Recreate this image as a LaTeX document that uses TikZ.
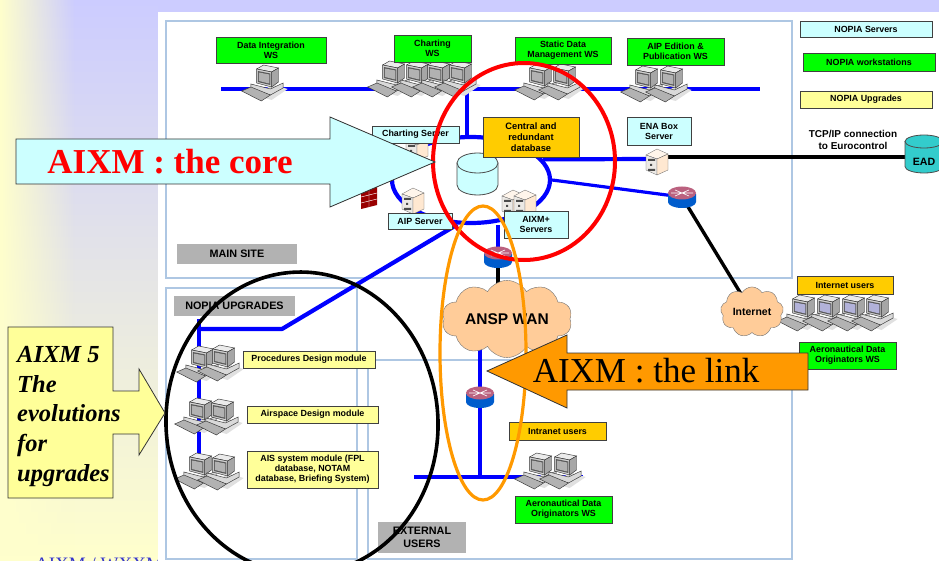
\documentclass[tikz,border=0pt]{standalone}
\usepackage{fontspec}
\setmainfont{Liberation Serif}
\setsansfont{Liberation Sans}
\usetikzlibrary{shapes.geometric,shapes.symbols,fadings}
\definecolor{lavender}{HTML}{CCCCFF}
\definecolor{paleyellow}{HTML}{FFFFCC}
\definecolor{framecol}{HTML}{AEC7E3}
\definecolor{wsgreen}{HTML}{00FF00}
\definecolor{srvcyan}{HTML}{CCFFFF}
\definecolor{upgyellow}{HTML}{FFFF99}
\definecolor{orgamber}{HTML}{FFCC00}
\definecolor{callorange}{HTML}{FF9900}
\definecolor{sitegrey}{HTML}{B2B2B2}
\definecolor{cloudpeach}{HTML}{FFCC99}
\definecolor{eadteal}{HTML}{33CCCC}
\definecolor{footblue}{HTML}{3333CC}
\newcommand{\wsgen}[2][black!30]{
  \begin{scope}[shift={(#2)},xscale=1.15,line width=.45pt]
    \fill[black!12] (-14,17) -- (6,8) -- (18,12) -- (4,23) -- cycle;
    \draw[black!80,fill=black!15] (-14,7) -- (3,12) -- (14,6) -- (14,11) -- (3,18) -- (-14,12) -- cycle;
    \draw[black!80,fill=black!30] (-22,14) -- (-14,10) -- (3,18) -- (-5,24) -- cycle;
    \draw[black!80,fill=black!8] (-9,-8) -- (-3,-12) -- (10,-9) -- (4,-5) -- cycle;
    \draw[black!80,fill=black!35] (4,-5) -- (10,-9) -- (10,5) -- (4,10) -- cycle;
    \draw[black!80,fill=black!18] (-9,-8) -- (4,-5) -- (4,10) -- (-9,6) -- cycle;
    \fill[black!65] (-8,-6) -- (3,-3.5) -- (3,8) -- (-8,5) -- cycle;
    \fill[#1] (-7,-4.5) -- (2,-2.5) -- (2,6.5) -- (-7,4) -- cycle;
  \end{scope}
}
\newcommand{\servergen}[1]{
  \begin{scope}[shift={(#1)},line width=.3pt]
    \draw[black!60,fill=orange!8] (-11,-7) -- (0,-13) -- (11,-8) -- (0,-3) -- cycle;
    \draw[black!60,fill=orange!25!black!10] (-11,-7) -- (0,-3) -- (0,13) -- (-11,8) -- cycle;
    \draw[black!60,fill=orange!18] (0,-3) -- (11,-8) -- (11,8) -- (0,13) -- cycle;
    \fill[black!70] (-9,-3) rectangle (-2,-1) (-7,2) rectangle (-5,4) (-9,7) rectangle (-2,9);
  \end{scope}
}
\newcommand{\routergen}[1]{
  \begin{scope}[shift={(#1)}]
    \fill[blue!55!cyan!80!black] (-14,-3) -- (-14,5) arc[start angle=180,end angle=360,x radius=14,y radius=-6] -- (14,-3) -- cycle;
    \fill[purple!55!white!85!black] (0,-4) ellipse[x radius=14,y radius=6.5];
    \draw[white,line width=.6pt] (-7,-7) -- (7,-1) (-7,-1) -- (7,-7) (-11,-4) -- (11,-4);
  \end{scope}
}
\newcommand{\dbgen}[5]{
  \begin{scope}[shift={(#1)}]
    \draw[draw=black!70,line width=.8pt,fill=#2] (-#3,-#4) -- (-#3,#4) arc[start angle=180,end angle=0,x radius=#3,y radius=#5] -- (#3,-#4) -- cycle;
    \draw[draw=black!70,line width=.8pt,fill=#2] (0,-#4) ellipse[x radius=#3,y radius=#5];
  \end{scope}
}
\begin{document}
\begin{tikzpicture}[
  x=1pt,y=-1pt,
  every node/.style={inner sep=0pt,align=center},
  frame/.style={draw=framecol,line width=2.4pt},
  wire/.style={draw=blue,line width=4.2pt},
  linkwire/.style={draw=black,line width=3.4pt},
  infobox/.style={draw=black!75,line width=.8pt,font=\sffamily\bfseries\fontsize{8.9}{10}\selectfont},
  wsbox/.style={infobox,fill=wsgreen},
  srvbox/.style={infobox,fill=srvcyan},
  upbox/.style={infobox,fill=upgyellow},
  orgbox/.style={infobox,fill=orgamber},
  sitebox/.style={fill=sitegrey,font=\sffamily\bfseries\fontsize{10.8}{13}\selectfont},
  netcloud/.style={cloud,cloud puffs=10,cloud puff arc=120,aspect=2,draw=black!55,fill=cloudpeach,font=\sffamily\bfseries},
  ring/.style={ellipse,line width=#1},
  callout/.style={draw=black!80,line width=.8pt},
  ]
  \clip (0,0) rectangle (939,561);
  \shade[top color=lavender,bottom color=paleyellow] (0,0) rectangle (158,561);
  \fill[paleyellow,path fading=east] (0,0) rectangle (75,561);
  \fill[lavender] (158,0) rectangle (939,12);
  \node(footer)[anchor=base west,text=footblue,font=\fontsize{19}{19}\selectfont] at (35,570) {AIXM / WXXM};
  \fill[white] (158,12) rectangle (939,561);
  \draw[frame] (166,21) rectangle (792,278);
  \draw[frame] (166,288) rectangle (357,559);
  \draw[frame] (368,360) rectangle (792,559);
  \coordinate(top-w) at (221,89);
  \coordinate(top-e) at (760,89);
  \coordinate(top-drop) at (467,89);
  \coordinate(ena) at (657,159);
  \coordinate(ead) at (924,157);
  \coordinate(rt-east) at (682,197);
  \coordinate(rt-main) at (498,257);
  \coordinate(rt-ext) at (480,397);
  \coordinate(wan) at (507,319);
  \coordinate(inet) at (752,312);
  \coordinate(upg-bend) at (282,329);
  \coordinate(upg-corner) at (199,329);
  \coordinate(upg-top) at (199,319);
  \coordinate(upg-end) at (199,455);
  \coordinate(ext-w) at (414,477);
  \coordinate(ext-e) at (583,477);
  \node(db-ring)[ring=4.2pt,draw=blue,minimum width=158,minimum height=86] at (471,180) {};
  \draw[wire] (top-w) -- (top-e);
  \draw[wire] (top-drop) -- (db-ring.north -| top-drop);
  \draw[wire] (db-ring.16) -- (ena);
  \draw[wire,line width=3.2pt] (db-ring.east) -- (rt-east);
  \draw[wire] (db-ring.south -| rt-main) -- (rt-main);
  \draw[wire,line join=round] (db-ring.253) -- (upg-bend) -- (upg-corner);
  \draw[wire] (upg-top) -- (upg-end);
  \draw[wire] (rt-ext |- wan) -- (rt-ext |- ext-w);
  \draw[wire] (ext-w) -- (ext-e);
  \draw[linkwire] (ena |- ead) -- (ead);
  \draw[linkwire] (rt-east) -- (inet);
  \draw[linkwire] (rt-main) -- (rt-main |- wan);
  \wsgen{267,77}
  \wsgen{393,73}
  \wsgen{417,73}
  \wsgen{438,73}
  \wsgen{460,73}
  \wsgen{540,76}
  \wsgen{564,76}
  \wsgen{646,78}
  \wsgen{671,78}
  \wsgen{202,358}
  \wsgen{223,357}
  \wsgen{200,410}
  \wsgen{222,411}
  \wsgen{200,465}
  \wsgen{223,466}
  \wsgen{540,465}
  \wsgen{565,465}
  \wsgen[blue!50!black!30]{803,307}
  \wsgen[blue!50!black!30]{828,307}
  \wsgen[blue!50!black!30]{853,307}
  \wsgen[blue!50!black!30]{877,307}
  \servergen{417,148}
  \servergen{413,201}
  \servergen{513,203}
  \servergen{525,203}
  \servergen{657,162}
  \routergen{rt-east}
  \routergen{rt-main}
  \routergen{rt-ext}
  \fill[red!60!black] (361,191) -- (377,187) -- (377,205) -- (361,209) -- cycle;
  \draw[white,line width=.4pt] (361,197) -- (377,193) (361,203) -- (377,199) (369,189) -- (369,207);
  \dbgen{477.5,174}{srvcyan}{20.5}{11}{10}
  \dbgen{924,154}{eadteal}{19}{12.5}{6.5}
  \node(ead-txt)[font=\sffamily\bfseries\fontsize{10.6}{12}\selectfont] at (924,162) {EAD};
  \node(wan-cloud)[netcloud,font=\sffamily\bfseries\fontsize{15.5}{17}\selectfont,minimum width=130,minimum height=62] at (wan) {ANSP WAN};
  \node(inet-cloud)[netcloud,cloud puffs=9,aspect=1.3,font=\sffamily\bfseries\fontsize{10.5}{12}\selectfont,minimum width=63,minimum height=49] at (inet) {Internet};
  \node(data-int)[wsbox,minimum width=110,minimum height=26] at (271,50) {Data Integration\\WS};
  \node(chart-ws)[wsbox,minimum width=77,minimum height=27] at (432.5,48.5) {Charting\\WS};
  \node(static-ws)[wsbox,minimum width=96,minimum height=27] at (563,50.5) {Static  Data\\Management WS};
  \node(aip-ws)[wsbox,minimum width=97,minimum height=27] at (675.5,51.5) {AIP Edition \&\\Publication  WS};
  \node(leg-srv)[srvbox,minimum width=132,minimum height=16] at (866,29) {NOPIA Servers};
  \node(leg-ws)[wsbox,minimum width=132,minimum height=18] at (869,62) {NOPIA workstations};
  \node(leg-up)[upbox,minimum width=132,minimum height=17] at (866,99.5) {NOPIA Upgrades};
  \node(ena-box)[srvbox,minimum width=64,minimum height=28] at (659,131) {ENA Box\\Server};
  \node(central)[orgbox,minimum width=96,minimum height=40,font=\sffamily\bfseries\fontsize{9.3}{11}\selectfont] at (531,137) {Central and\\redundant\\database};
  \node(chart-srv)[srvbox,minimum width=87,minimum height=17] at (415.5,134.5) {Charting Server};
  \node(aip-srv)[srvbox,minimum width=64,minimum height=16] at (420,221) {AIP Server};
  \node(aixm-srv)[srvbox,minimum width=64,minimum height=27] at (536,224.5) {AIXM+\\Servers};
  \node(tcp)[font=\sffamily\bfseries\fontsize{10}{11.5}\selectfont] at (853,140) {TCP/IP connection\\to Eurocontrol};
  \node(main-site)[sitebox,minimum width=120,minimum height=20] at (237,254) {MAIN SITE};
  \node(upg-site)[sitebox,minimum width=121,minimum height=20] at (234.5,306) {NOPIA UPGRADES};
  \node(ext-site)[sitebox,minimum width=88,minimum height=31] at (422,537.5) {EXTERNAL\\USERS};
  \node(proc-box)[upbox,minimum width=132,minimum height=17] at (309,359.5) {Procedures Design module};
  \node(air-box)[upbox,minimum width=131,minimum height=17] at (312.5,414.5) {Airspace  Design module};
  \node(ais-box)[upbox,minimum width=131,minimum height=37] at (312.5,469.5) {AIS system module (FPL\\database, NOTAM\\database, Briefing System)};
  \node(intra-box)[orgbox,minimum width=97,minimum height=18] at (557.5,431) {Intranet users};
  \node(org-box)[wsbox,minimum width=97,minimum height=27] at (563.5,509.5) {Aeronautical Data\\Originators WS};
  \node(inet-box)[orgbox,minimum width=96,minimum height=18] at (845,285) {Internet  users};
  \node(org2-box)[wsbox,minimum width=97,minimum height=27] at (847.5,355.5) {Aeronautical Data\\Originators  WS};
  \node(red-ring)[ring=4pt,draw=red,minimum width=182,minimum height=197] at (524,161.5) {};
  \node(orange-ring)[ring=3.2pt,draw=callorange,minimum width=86,minimum height=294] at (483,353) {};
  \node(black-ring)[ring=3.6pt,draw=black,rotate=3,minimum width=272,minimum height=302] at (302,423) {};
  \draw[callout,fill=srvcyan] (16,139) -- (330,139) -- (330,117) -- (435,162) -- (330,207) -- (330,184) -- (16,184) -- cycle;
  \node(core-txt)[text=red,font=\bfseries\fontsize{35}{35}\selectfont] at (170,162) {AIXM : the core};
  \draw[callout,fill=callorange] (808,353) -- (567,353) -- (567,335) -- (487,371) -- (567,408) -- (567,390) -- (808,390) -- cycle;
  \node(link-txt)[font=\fontsize{35}{35}\selectfont] at (646,371) {AIXM : the link};
  \draw[callout,fill=upgyellow] (8,327) -- (113,327) -- (113,391) -- (139,391) -- (139,369) -- (165,413) -- (139,455) -- (139,434) -- (113,434) -- (113,498) -- (8,498) -- cycle;
  \node(evol-txt)[anchor=north west,align=left,font=\bfseries\itshape\fontsize{24.5}{29.7}\selectfont] at (17,346) {AIXM 5\\The\\evolutions\\for\\upgrades};
\end{tikzpicture}
\end{document}
